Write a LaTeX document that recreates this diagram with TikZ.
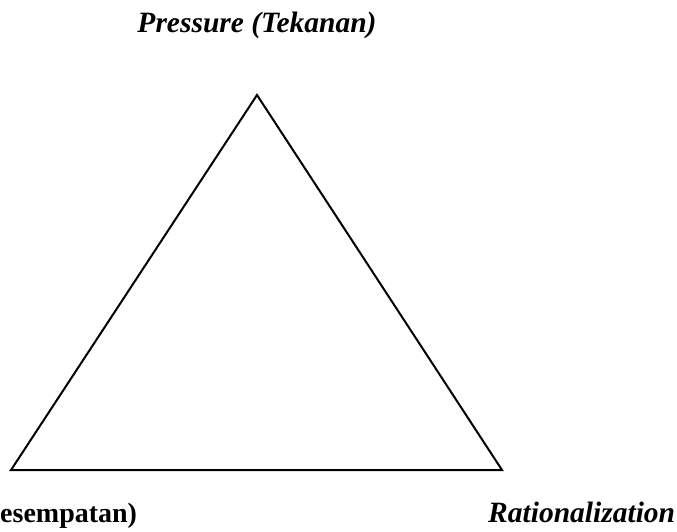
\documentclass[tikz,border=0pt]{standalone}
\usepackage{fontspec}
\setmainfont{Liberation Serif}
\usepackage{tikz}

\begin{document}
\begin{tikzpicture}[
  x=1pt, y=-1pt,
  font=\fontsize{29.5}{34}\selectfont\bfseries,
  label/.style={inner sep=0pt, anchor=base west},
  side/.style={draw, line width=2pt, line join=miter}]
\useasboundingbox (0,0) rectangle (677,531);
\coordinate (top)   at (257,95);
\coordinate (left)  at (11,470);
\coordinate (right) at (502,470);
\draw[side] (top) -- (right) -- (left) -- cycle;
\node[label, anchor=base] (pressure) at (257,32) {\itshape Pressure (Tekanan)};
\node[label, font=\fontsize{28}{32}\selectfont\bfseries] (opportunity) at (0,522) {esempatan)};
\node[label] (rational) at (488,522) {\itshape Rationalization};
\end{tikzpicture}
\end{document}
